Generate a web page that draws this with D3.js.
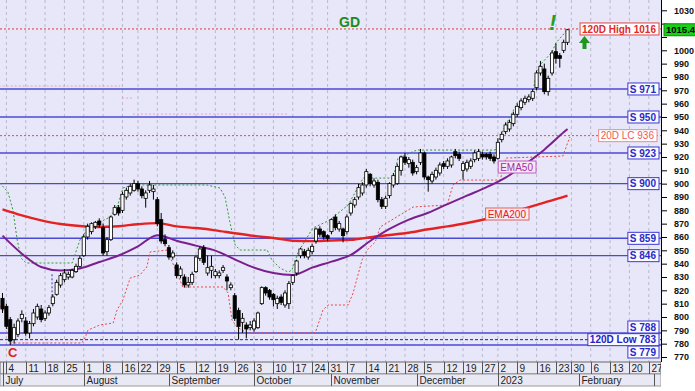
<!DOCTYPE html>
<html>
<head>
<meta charset="utf-8">
<script src="https://cdn.jsdelivr.net/npm/d3@7"></script>
<style>
  body { margin: 0; background: #fff; }
  svg { display: block; font-family: "Liberation Sans", Arial, sans-serif; }
</style>
</head>
<body>
<svg id="chart" width="695" height="391"></svg>
<script>
// trading calendar (weekdays less exchange holidays)
const startDay = "2022-07-01";
const endDay = "2023-03-03";
const holidays = ["2022-08-15", "2022-10-26", "2022-12-26", "2023-01-26"];
const monthNames = ["July", "August", "September", "October", "November", "December", "2023", "February", "March"];

// daily candles: [open, high, low, close]
const candles = [
  [814,818,803,806],[808,810,791,793],[798,800,779,782],[783,795,780,792],[787,799,785,797],
  [799,805,796,802],[797,800,786,788],[788,797,784,795],[795,806,793,803],[800,810,798,808],
  [806,809,796,798],[799,805,797,803],[803,809,801,807],[810,817,808,815],[817,828,816,826],
  [824,833,822,831],[828,836,826,833],[830,834,828,832],[830,836,829,835],[834,840,833,838],
  [838,846,837,844],[846,862,845,860],[860,870,858,868],[864,871,862,870],[868,872,866,871],
  [872,874,867,869],[867,870,846,848],[849,860,846,858],[858,876,857,875],[877,884,876,882],
  [882,884,876,878],[880,894,878,892],[890,897,888,895],[893,900,891,898],[895,903,894,900],
  [900,902,894,896],[896,898,889,891],[889,895,882,893],[895,902,893,899],[894,899,888,896],
  [888,890,868,870],[873,878,855,857],[858,862,853,855],[852,854,843,845],[845,850,843,848],
  [839,841,829,831],[831,838,829,836],[830,832,822,824],[824,830,822,826],[826,834,824,832],
  [834,846,833,845],[844,853,842,851],[852,854,839,841],[833,846,831,837],[835,846,829,838],
  [831,836,829,834],[831,835,829,833],[835,839,833,837],[830,832,820,827],[822,826,820,824],
  [816,818,797,799],[805,807,783,793],[796,803,788,799],[794,796,784,791],[792,797,790,794],
  [791,799,789,797],[792,804,791,803],[810,823,809,822],[822,823,816,818],[820,821,813,815],
  [817,818,808,813],[810,816,806,814],[815,817,809,811],[809,820,807,818],[810,827,806,825],
  [826,832,824,831],[833,843,831,842],[846,852,844,851],[849,851,844,846],[845,852,843,850],
  [849,855,847,853],[857,867,855,866],[866,868,860,862],[864,865,858,860],[861,862,857,859],
  [864,874,862,873],[875,877,865,867],[866,872,864,870],[866,867,856,861],[864,877,862,875],
  [878,886,876,885],[884,890,882,888],[890,900,888,897],[893,901,891,899],[899,911,897,909],
  [907,908,898,900],[899,904,897,902],[901,903,886,888],[888,890,881,883],[883,891,881,889],
  [891,901,889,900],[899,908,897,906],[900,915,899,913],[910,921,906,920],[920,923,914,916],
  [915,920,912,918],[916,918,906,908],[909,914,907,912],[916,926,914,923],[923,924,903,905],
  [905,906,894,903],[902,909,900,907],[905,912,903,910],[908,916,906,914],[915,917,911,913],
  [913,919,911,917],[914,921,912,920],[924,926,919,921],[922,924,917,919],[910,917,903,915],
  [911,918,909,916],[913,919,911,917],[918,925,916,923],[919,926,917,924],[922,924,918,920],
  [922,923,918,920],[922,924,917,919],[920,922,915,917],[919,934,918,931],[933,939,931,937],
  [939,946,937,944],[941,948,939,946],[945,954,943,952],[952,960,950,958],[957,964,955,962],
  [961,966,959,964],[963,967,961,965],[964,971,962,969],[972,985,970,983],[983,992,981,988],
  [986,990,967,969],[969,981,966,979],[983,1000,981,998],[999,1005,990,994],[996,998,987,994],
  [1000,1008,998,1006],[1006,1016,1004,1015.4]
];
const lastPrice = "1015.4";

// moving averages, read every 5 sessions
const emaIdx = [0,5,10,15,20,25,30,35,40,45,50,55,60,65,70,75,80,85,90,95,100,105,110,115,120,125,130,135,140,145,146];
const ema50 = [861,847.5,837.5,834.8,836.4,841.2,846.1,853,861.3,857.2,853.5,849.8,843.2,837,833,831.5,837,841.5,846.5,857,866,873,878.2,884.7,891,897.2,904.5,914.5,925.5,938.5,941];
const ema200 = [880.7,876.2,872.5,869.7,868.2,867.5,868.1,869.6,870.4,868,866.7,865,862.8,860.8,859.2,857.2,856.9,857.4,857.8,859.8,861.5,863.2,865.8,868,870.5,873.5,877,881.5,885.8,890,891];

// 20-day channel: [session index, price]
const upperBand = [[-0.7,900.5],[1.4,893.7],[2.7,880.2],[3.8,857.7],[4.8,844.2],[6.1,840.5],[18,840.5],[20,857.7],[22.1,866.7],[25.2,871.2],[27.8,875],[29.8,884],[31.1,896.7],[33.5,899],[52.8,899],[56.2,896.7],[57.5,890],[58.8,870.5],[60.1,854],[61.4,850.2],[68.4,850.2],[69.6,842.7],[71.7,836.7],[73.8,833.7],[74.8,835.2],[76.4,848.7],[80.2,866.7],[84.6,872.7],[89.3,884],[93.2,904.2],[100.9,904.2],[102.2,919.2],[107.1,925.2],[127.3,925.2],[129.1,938.7],[131.4,951.5],[133,960.5],[136.8,965],[137.9,981.5],[138.9,989],[142,998.7],[143,1005.5],[145.9,1015.2]];
const lowerBand = [[-0.7,808.2],[0.9,803],[1.9,780.5],[20.5,780.5],[21.3,784.2],[22.1,790.2],[25.2,794],[28.6,795.5],[29.6,805.2],[31.1,812.7],[33,829.2],[35.5,831.5],[37.3,837.5],[38.1,848.7],[42.5,850.2],[43.3,845],[46.6,822.5],[57,822.5],[58.3,818],[59.3,797.7],[60.6,792.5],[63.2,788],[80.8,788],[82.8,805.2],[84.1,809],[89.3,809],[90.6,818],[92.9,842.7],[94.2,850.2],[96.3,856.2],[97.6,867.5],[106.1,882.5],[114.9,884],[116.4,899],[118.2,902.7],[128.6,902.7],[130.1,919.2],[144.8,920.7],[146.6,935]];
const breakMark = [[12.8,832],[12.8,809]];
// older faint levels: [from index, to index, price]
const oldLevels = [[-1,30.4,973.2],[30.9,33.5,964.2],[33.7,73.5,952.2]];

const supports = [971, 950, 923, 900, 859, 846, 788, 779];
const high120 = 1016, low120 = 783, lc20 = 936;
const yTicks = d3.range(770, 1031, 10);

const W = 695, H = 391;
const plotR = 661, plotB = 362;
const svg = d3.select("#chart");

const fmt = d3.timeFormat("%Y-%m-%d");
const parse = d3.timeParse("%Y-%m-%d");
const days = d3.timeDay.range(parse(startDay), d3.timeDay.offset(parse(endDay), 1))
  .filter(d => d.getDay() % 6 !== 0 && !holidays.includes(fmt(d)));

const x = d3.scaleLinear().domain([0, 167]).range([2.5, 648.8]);
const y = d3.scaleLinear().domain([770, 1030]).range([357, 10.3]);

svg.append("rect").attr("width", W).attr("height", H).attr("fill", "#fff");
const defs = svg.append("defs");
defs.append("clipPath").attr("id", "plotclip")
  .append("rect").attr("width", plotR).attr("height", plotB);
defs.append("clipPath").attr("id", "xclip")
  .append("rect").attr("x", -1).attr("y", plotB - 1).attr("width", plotR + 1).attr("height", 30);
svg.append("rect").attr("width", plotR).attr("height", plotB).attr("fill", "#e7e7f9");

const plot = svg.append("g").attr("clip-path", "url(#plotclip)");

// week / month starts
const weekStarts = [], monthStarts = [];
days.forEach((d, i) => {
  const prev = days[i - 1];
  if (!prev || +d3.timeMonday.floor(d) !== +d3.timeMonday.floor(prev)) weekStarts.push({i: i, d: d});
  if (!prev || d.getMonth() !== prev.getMonth()) monthStarts.push({i: i, d: d});
});

plot.selectAll(".vgrid").data(weekStarts.slice(1)).join("line")
  .attr("x1", d => x(d.i)).attr("x2", d => x(d.i))
  .attr("y1", 0).attr("y2", plotB)
  .attr("stroke", "#b9b9cc").attr("stroke-dasharray", "3,3").attr("stroke-width", 1);

// faint older levels
plot.selectAll(".old").data(oldLevels).join("line")
  .attr("x1", d => x(d[0])).attr("x2", d => x(d[1]))
  .attr("y1", d => y(d[2])).attr("y2", d => y(d[2]))
  .attr("stroke", "#e9a6b8").attr("stroke-dasharray", "2,2").attr("stroke-width", 1);

// support lines
plot.selectAll(".sup").data(supports).join("line")
  .attr("x1", 0).attr("x2", plotR)
  .attr("y1", d => y(d)).attr("y2", d => y(d))
  .attr("stroke", "#4a4ad8").attr("stroke-width", 1.4);

function hline(v, color, dash) {
  plot.append("line").attr("x1", 0).attr("x2", plotR)
    .attr("y1", y(v)).attr("y2", y(v))
    .attr("stroke", color).attr("stroke-width", 1).attr("stroke-dasharray", dash);
}
hline(high120, "#e23a3a", "2,2");
hline(lc20, "#e84a4a", "2,2");
hline(low120, "#23239a", "3,2");

// channel
const bandLine = d3.line().x(d => x(d[0])).y(d => y(d[1]));
plot.append("path").datum(upperBand).attr("d", bandLine)
  .attr("fill", "none").attr("stroke", "#2e9a2e").attr("stroke-width", 1).attr("stroke-dasharray", "2,2");
plot.append("path").datum(lowerBand).attr("d", bandLine)
  .attr("fill", "none").attr("stroke", "#e84848").attr("stroke-width", 1).attr("stroke-dasharray", "2,2");
plot.append("path").datum(breakMark).attr("d", bandLine)
  .attr("fill", "none").attr("stroke", "#3030c0").attr("stroke-width", 1).attr("stroke-dasharray", "2,2");

// EMAs
const emaLine = vals => d3.line().x((d, k) => x(emaIdx[k])).y(d => y(d)).curve(d3.curveMonotoneX)(vals);
plot.append("path").attr("d", emaLine(ema200))
  .attr("fill", "none").attr("stroke", "#e42222").attr("stroke-width", 2.4);
plot.append("path").attr("d", emaLine(ema50))
  .attr("fill", "none").attr("stroke", "#7c1f8e").attr("stroke-width", 2);

// candles
const cg = plot.append("g");
cg.selectAll(".wick").data(candles).join("line")
  .attr("x1", (d, i) => x(i)).attr("x2", (d, i) => x(i))
  .attr("y1", d => y(d[1])).attr("y2", d => y(d[2]))
  .attr("stroke", "#000").attr("stroke-width", 1);
cg.selectAll(".body").data(candles).join("rect")
  .attr("x", (d, i) => x(i) - 1.6).attr("width", 3.2)
  .attr("y", d => y(Math.max(d[0], d[3])))
  .attr("height", d => Math.max(1, Math.abs(y(d[0]) - y(d[3]))))
  .attr("fill", d => d[3] >= d[0] ? "#fff" : "#000")
  .attr("stroke", "#000").attr("stroke-width", 0.8);

// boxed labels
function tag(txt, xr, yc, color, border, fill, weight, size) {
  const g = svg.append("g");
  const t = g.append("text").text(txt)
    .attr("font-size", size).attr("font-weight", weight).attr("fill", color)
    .attr("y", yc + size * 0.36);
  const w = t.node().getComputedTextLength();
  t.attr("x", xr - w - 2);
  g.insert("rect", "text")
    .attr("x", xr - w - 4).attr("y", yc - 6).attr("width", w + 5).attr("height", 12)
    .attr("fill", fill).attr("stroke", border).attr("stroke-width", 1);
}
supports.forEach(v => {
  let yc = y(v);
  if (v === 788) yc -= 6;
  if (v === 779) yc += 7;
  tag("S " + v, 658, yc, "#2a2ac8", "#3a3ad0", "#fafaff", "bold", 10);
});
tag("120D High " + high120, 658, y(high120), "#e02a2a", "#e04444", "#fff", "bold", 10);
tag("20D LC " + lc20, 656, y(lc20), "#f05858", "#f08a8a", "#fff", "normal", 10);
tag("120D Low " + low120, 658, y(low120), "#2424c4", "#3a3ad0", "#fafaff", "bold", 10);
tag("EMA50", 535, 167, "#a02ea0", "#c05cc0", "#f7e7f7", "normal", 10);
tag("EMA200", 528, 214, "#e02020", "#e06060", "#fbe9ef", "normal", 10);

// annotations
svg.append("text").attr("x", 339).attr("y", 27).text("GD")
  .attr("font-size", 14).attr("font-weight", "bold").attr("fill", "#1b8c1b");
svg.append("text").attr("x", 549).attr("y", 30).text("!")
  .attr("font-size", 22).attr("font-weight", "bold").attr("font-style", "italic").attr("fill", "#22a022");
svg.append("path").attr("d", "M584.5,36 L590,43 L586.5,43 L586.5,49 L582.5,49 L582.5,43 L579,43 Z")
  .attr("fill", "#1c961c");
svg.append("text").attr("x", 8).attr("y", 357).text("C")
  .attr("font-size", 13).attr("font-weight", "bold").attr("fill", "#e02020");

// right price axis (1020 and 1010 sit under the last-price box)
const yAxis = d3.axisRight(y).tickValues(yTicks).tickSize(6).tickPadding(7)
  .tickFormat(d => (d === 1020 || d === 1010) ? "" : d3.format("d")(d));
const ag = svg.append("g").attr("transform", `translate(${plotR},0)`).call(yAxis);
ag.select(".domain").attr("d", `M0.5,0V${plotB}`).attr("stroke", "#000");
ag.selectAll("text").attr("font-size", 9).attr("font-weight", "bold").attr("fill", "#111")
  .attr("font-family", "'Liberation Sans', Arial, sans-serif");

// last price box
svg.append("rect").attr("x", 664).attr("y", y(+lastPrice) - 6).attr("width", 34).attr("height", 12)
  .attr("fill", "#18d018").attr("stroke", "#0a8a0a");
svg.append("text").attr("x", 666).attr("y", y(+lastPrice) + 3.4).text(lastPrice)
  .attr("font-size", 9.5).attr("font-weight", "bold").attr("fill", "#000");

// date axis rows
const xg = svg.append("g").attr("clip-path", "url(#xclip)");
xg.append("rect").attr("x", 0).attr("y", plotB).attr("width", plotR).attr("height", 12)
  .attr("fill", "#e9e9f5").attr("stroke", "#666").attr("stroke-width", 1);
xg.append("rect").attr("x", 0).attr("y", plotB + 12).attr("width", plotR).attr("height", 12)
  .attr("fill", "#e9e9f5").attr("stroke", "#999").attr("stroke-width", 1);
weekStarts.forEach((w, k) => {
  const xp = Math.round(x(w.i)) + 0.5;
  if (xp > plotR) return;
  xg.append("line").attr("x1", xp).attr("x2", xp).attr("y1", plotB).attr("y2", plotB + 12)
    .attr("stroke", "#555");
  if (k > 0) xg.append("text").attr("x", xp + 2).attr("y", plotB + 10).text(w.d.getDate())
    .attr("font-size", 10).attr("fill", "#222");
});
monthStarts.forEach((m, k) => {
  const xp = Math.round(x(m.i)) + 0.5;
  if (xp > plotR - 6) {
    xg.append("line").attr("x1", xp - 3).attr("x2", xp - 3).attr("y1", plotB + 12).attr("y2", plotB + 24)
      .attr("stroke", "#555");
    return;
  }
  xg.append("line").attr("x1", xp).attr("x2", xp).attr("y1", plotB + 12).attr("y2", plotB + 24)
    .attr("stroke", "#555");
  xg.append("text").attr("x", xp + 2).attr("y", plotB + 22).text(monthNames[k])
    .attr("font-size", 10).attr("fill", "#222");
});
</script>
</body>
</html>
